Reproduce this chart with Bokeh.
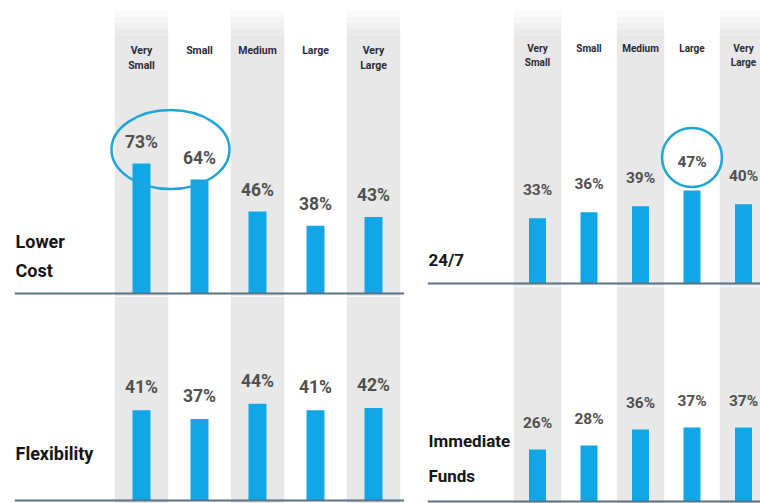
from bokeh.plotting import figure
from bokeh.layouts import row, column
from bokeh.models import Range1d, Span, Label, ColumnDataSource
from bokeh.core.properties import value
from bokeh.embed import file_html
from bokeh.resources import INLINE

# ---------------- data ----------------
categories = ["Very Small", "Small", "Medium", "Large", "Very Large"]
header_labels = ["Very\nSmall", "Small", "Medium", "Large", "Very\nLarge"]
lower_cost = [73, 64, 46, 38, 43]
flexibility = [41, 37, 44, 41, 42]
always_on = [33, 36, 39, 47, 40]
immediate_funds = [26, 28, 36, 37, 37]
title_lower_cost = ["Lower", "Cost"]
title_flexibility = ["Flexibility"]
title_always_on = ["24/7"]
title_immediate = ["Immediate", "Funds"]
highlight_lower_cost = ["Very Small", "Small"]
highlight_always_on = ["Large"]

# ---------------- style ----------------
FONT = "Roboto, sans-serif"
BAR = "#11a6e6"
COL_GRAY = "#e8e8e8"
LINE = "#587382"
ELL = "#1fa5d9"


def make_panel(values, title_lines, title_ys, title_size, width, height,
               border_left, unit_px, first_px, base_px, ppu, label_off,
               value_size, header_size=None, header_off=None, header_lh=None,
               highlight=None, ell_w=None, ell_h=None, ell_extra=0,
               top_fade=False, bar_w=0.31, col_w=0.9):
    frame_w = width - border_left
    x0 = -first_px / unit_px
    x1 = (frame_w - first_px) / unit_px
    y0 = -base_px / ppu
    y1 = (height - base_px) / ppu
    p = figure(width=width, height=height,
               x_range=Range1d(x0, x1), y_range=Range1d(y0, y1),
               output_backend="svg", toolbar_location=None,
               x_axis_location=None, y_axis_location=None,
               min_border_left=border_left, min_border_right=0,
               min_border_top=0, min_border_bottom=0,
               outline_line_color=None,
               background_fill_color="white", border_fill_color="white")
    p.xgrid.visible = False
    p.ygrid.visible = False

    idx = list(range(len(categories)))
    gray_x = [i for i in idx if i % 2 == 0]

    # background columns
    if top_fade:
        start_px = 10
        step = 6
        fades = ["#fafafa", "#f5f5f5", "#f0f0f0", "#ebebeb"]
        solid_top = y1 - (start_px + len(fades) * step) / ppu
        p.vbar(x=gray_x, width=col_w, bottom=y0, top=solid_top,
               fill_color=COL_GRAY, line_color=None)
        for k, c in enumerate(fades):
            b = y1 - (start_px + (k + 1) * step) / ppu
            t = y1 - (start_px + k * step) / ppu
            p.vbar(x=gray_x, width=col_w, bottom=b, top=t,
                   fill_color=c, line_color=None)
    else:
        p.vbar(x=gray_x, width=col_w, bottom=y0, top=y1,
               fill_color=COL_GRAY, line_color=None)

    src = ColumnDataSource(dict(x=idx, v=values,
                                lab=[f"{v}%" for v in values],
                                cat=categories, head=header_labels))
    p.vbar(x="x", top="v", bottom=0, width=bar_w, source=src,
           fill_color=BAR, line_color=None)

    p.add_layout(Span(location=0, dimension="width", line_color=LINE,
                      line_width=2))

    p.text(x="x", y="v", text="lab", source=src, y_offset=-label_off,
           text_align="center", text_baseline="middle",
           text_font=value(FONT), text_font_size=f"{value_size}px",
           text_font_style="bold", text_color="#505050")

    if header_size:
        p.text(x="x", y=y1, text="head", source=src, y_offset=header_off,
               text_align="center", text_baseline="top",
               text_font=value(FONT), text_font_size=f"{header_size}px",
               text_font_style="bold", text_color="#2a2a38",
               text_line_height=header_lh)

    if highlight:
        hi = [categories.index(c) for c in highlight]
        cx = sum(hi) / len(hi)
        cy = sum(values[i] for i in hi) / len(hi) + (label_off + ell_extra) / ppu
        p.ellipse(x=[cx], y=[cy], width=ell_w / unit_px, height=ell_h / ppu,
                  fill_color=None, line_color=ELL, line_width=2.5)

    for t, ty in zip(title_lines, title_ys):
        p.add_layout(Label(x=1, y=ty, x_units="screen", y_units="screen",
                           text=t, text_font=FONT,
                           text_font_size=f"{title_size}px",
                           text_font_style="bold", text_color="#151515",
                           text_baseline="alphabetic", text_align="left"))
    return p


lt = make_panel(lower_cost, title_lower_cost, [55, 26], 18, 404, 296, 14,
                58, 127, 3, 1.78, 22, 17.5,
                header_size=10.5, header_off=43, header_lh=1.2,
                highlight=highlight_lower_cost, ell_w=118, ell_h=79,
                ell_extra=0, top_fade=True, bar_w=0.31, col_w=0.92)
lb = make_panel(flexibility, title_flexibility, [50], 18, 404, 207, 14,
                58, 127, 3, 2.2, 23, 17.5, bar_w=0.31, col_w=0.92)
rt = make_panel(always_on, title_always_on, [27], 17, 356, 286, 23,
                51.5, 110, 3, 1.98, 28, 15.5,
                header_size=10, header_off=42, header_lh=1.3,
                highlight=highlight_always_on, ell_w=60, ell_h=59,
                ell_extra=5, top_fade=True, bar_w=0.33, col_w=0.92)
rb = make_panel(immediate_funds, title_immediate, [63, 28], 17, 356, 217, 23,
                51.5, 110, 2, 2.0, 27, 15.5, bar_w=0.33, col_w=0.92)

layout = row(column(lt, lb), column(rt, rb))

open("out.html", "w").write(file_html(layout, INLINE))
